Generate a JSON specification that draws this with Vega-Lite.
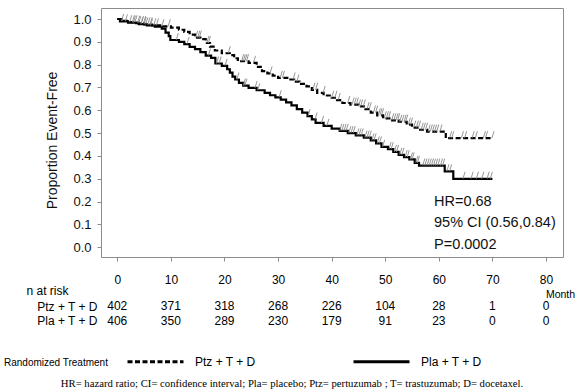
{
  "$schema": "https://vega.github.io/schema/vega-lite/v6.json",
  "width": 462,
  "height": 249,
  "autosize": {"type": "none"},
  "padding": {"left": 101, "top": 8, "right": 16, "bottom": 135},
  "background": "white",
  "config": {
    "view": {"stroke": "#8c8c8c", "strokeWidth": 1},
    "font": "Liberation Sans",
    "axis": {"grid": false, "domain": false, "tickColor": "#8c8c8c", "labelColor": "#111", "titleColor": "#111"}
  },
  "title": {
    "text": "HR= hazard ratio; CI= confidence interval; Pla= placebo; Ptz= pertuzumab ; T= trastuzumab; D= docetaxel.",
    "orient": "bottom", "anchor": "middle", "font": "Liberation Serif", "fontSize": 10.7,
    "fontWeight": "normal", "color": "#000", "offset": 11, "dx": -40
  },
  "datasets": {
    "km": [
      {"arm": "Ptz + T + D", "month": 0, "surv": 1.0}, {"arm": "Ptz + T + D", "month": 0.8, "surv": 0.992},
      {"arm": "Ptz + T + D", "month": 2, "surv": 0.986}, {"arm": "Ptz + T + D", "month": 3.5, "surv": 0.982},
      {"arm": "Ptz + T + D", "month": 5, "surv": 0.976}, {"arm": "Ptz + T + D", "month": 6.5, "surv": 0.972},
      {"arm": "Ptz + T + D", "month": 8, "surv": 0.968}, {"arm": "Ptz + T + D", "month": 10, "surv": 0.962},
      {"arm": "Ptz + T + D", "month": 11.5, "surv": 0.953}, {"arm": "Ptz + T + D", "month": 12.5, "surv": 0.944},
      {"arm": "Ptz + T + D", "month": 13.5, "surv": 0.932}, {"arm": "Ptz + T + D", "month": 14.5, "surv": 0.918},
      {"arm": "Ptz + T + D", "month": 15.5, "surv": 0.912}, {"arm": "Ptz + T + D", "month": 16.5, "surv": 0.895},
      {"arm": "Ptz + T + D", "month": 17.3, "surv": 0.879}, {"arm": "Ptz + T + D", "month": 18.2, "surv": 0.862},
      {"arm": "Ptz + T + D", "month": 19.5, "surv": 0.85}, {"arm": "Ptz + T + D", "month": 21, "surv": 0.842},
      {"arm": "Ptz + T + D", "month": 21.8, "surv": 0.828}, {"arm": "Ptz + T + D", "month": 22.5, "surv": 0.815},
      {"arm": "Ptz + T + D", "month": 24.5, "surv": 0.808}, {"arm": "Ptz + T + D", "month": 26, "surv": 0.79},
      {"arm": "Ptz + T + D", "month": 27, "surv": 0.772}, {"arm": "Ptz + T + D", "month": 28, "surv": 0.762},
      {"arm": "Ptz + T + D", "month": 29, "surv": 0.752}, {"arm": "Ptz + T + D", "month": 30, "surv": 0.742},
      {"arm": "Ptz + T + D", "month": 32, "surv": 0.735}, {"arm": "Ptz + T + D", "month": 33, "surv": 0.726},
      {"arm": "Ptz + T + D", "month": 34, "surv": 0.716}, {"arm": "Ptz + T + D", "month": 35.3, "surv": 0.705},
      {"arm": "Ptz + T + D", "month": 36.3, "surv": 0.69}, {"arm": "Ptz + T + D", "month": 37.3, "surv": 0.676},
      {"arm": "Ptz + T + D", "month": 38.5, "surv": 0.665}, {"arm": "Ptz + T + D", "month": 40, "surv": 0.655},
      {"arm": "Ptz + T + D", "month": 41, "surv": 0.645}, {"arm": "Ptz + T + D", "month": 42, "surv": 0.632},
      {"arm": "Ptz + T + D", "month": 43.5, "surv": 0.625}, {"arm": "Ptz + T + D", "month": 45, "surv": 0.617},
      {"arm": "Ptz + T + D", "month": 46.3, "surv": 0.605}, {"arm": "Ptz + T + D", "month": 47.3, "surv": 0.59},
      {"arm": "Ptz + T + D", "month": 48.5, "surv": 0.578}, {"arm": "Ptz + T + D", "month": 49.6, "surv": 0.565},
      {"arm": "Ptz + T + D", "month": 51, "surv": 0.556}, {"arm": "Ptz + T + D", "month": 52.5, "surv": 0.55},
      {"arm": "Ptz + T + D", "month": 54, "surv": 0.537}, {"arm": "Ptz + T + D", "month": 55, "surv": 0.524},
      {"arm": "Ptz + T + D", "month": 56.5, "surv": 0.515}, {"arm": "Ptz + T + D", "month": 57.8, "surv": 0.507},
      {"arm": "Ptz + T + D", "month": 61.3, "surv": 0.478}, {"arm": "Ptz + T + D", "month": 70, "surv": 0.478},
      {"arm": "Pla + T + D", "month": 0, "surv": 1.0}, {"arm": "Pla + T + D", "month": 0.5, "surv": 0.99},
      {"arm": "Pla + T + D", "month": 2, "surv": 0.984}, {"arm": "Pla + T + D", "month": 4, "surv": 0.978},
      {"arm": "Pla + T + D", "month": 5.5, "surv": 0.972}, {"arm": "Pla + T + D", "month": 7, "surv": 0.966},
      {"arm": "Pla + T + D", "month": 8.3, "surv": 0.958}, {"arm": "Pla + T + D", "month": 9, "surv": 0.94},
      {"arm": "Pla + T + D", "month": 9.6, "surv": 0.925}, {"arm": "Pla + T + D", "month": 9.9, "surv": 0.908},
      {"arm": "Pla + T + D", "month": 11.5, "surv": 0.9}, {"arm": "Pla + T + D", "month": 12.5, "surv": 0.89},
      {"arm": "Pla + T + D", "month": 13.5, "surv": 0.878}, {"arm": "Pla + T + D", "month": 14.5, "surv": 0.868},
      {"arm": "Pla + T + D", "month": 15.5, "surv": 0.855}, {"arm": "Pla + T + D", "month": 16.5, "surv": 0.84},
      {"arm": "Pla + T + D", "month": 17.5, "surv": 0.83}, {"arm": "Pla + T + D", "month": 18.3, "surv": 0.805},
      {"arm": "Pla + T + D", "month": 19.5, "surv": 0.795}, {"arm": "Pla + T + D", "month": 20.5, "surv": 0.78},
      {"arm": "Pla + T + D", "month": 21, "surv": 0.765}, {"arm": "Pla + T + D", "month": 21.5, "surv": 0.748},
      {"arm": "Pla + T + D", "month": 22, "surv": 0.735}, {"arm": "Pla + T + D", "month": 22.7, "surv": 0.72},
      {"arm": "Pla + T + D", "month": 23.5, "surv": 0.708}, {"arm": "Pla + T + D", "month": 24.5, "surv": 0.698},
      {"arm": "Pla + T + D", "month": 26, "surv": 0.688}, {"arm": "Pla + T + D", "month": 27.5, "surv": 0.676},
      {"arm": "Pla + T + D", "month": 28.5, "surv": 0.666}, {"arm": "Pla + T + D", "month": 29.5, "surv": 0.657},
      {"arm": "Pla + T + D", "month": 30.5, "surv": 0.647}, {"arm": "Pla + T + D", "month": 31.5, "surv": 0.635},
      {"arm": "Pla + T + D", "month": 32.5, "surv": 0.622}, {"arm": "Pla + T + D", "month": 33.5, "surv": 0.605},
      {"arm": "Pla + T + D", "month": 34.5, "surv": 0.59}, {"arm": "Pla + T + D", "month": 35.5, "surv": 0.575},
      {"arm": "Pla + T + D", "month": 36.3, "surv": 0.56}, {"arm": "Pla + T + D", "month": 37, "surv": 0.545},
      {"arm": "Pla + T + D", "month": 38.5, "surv": 0.532}, {"arm": "Pla + T + D", "month": 40, "surv": 0.52},
      {"arm": "Pla + T + D", "month": 41.5, "surv": 0.51}, {"arm": "Pla + T + D", "month": 43, "surv": 0.5},
      {"arm": "Pla + T + D", "month": 44.5, "surv": 0.49}, {"arm": "Pla + T + D", "month": 46, "surv": 0.48},
      {"arm": "Pla + T + D", "month": 47.3, "surv": 0.468}, {"arm": "Pla + T + D", "month": 48.3, "surv": 0.455},
      {"arm": "Pla + T + D", "month": 49.3, "surv": 0.44}, {"arm": "Pla + T + D", "month": 50.5, "surv": 0.43},
      {"arm": "Pla + T + D", "month": 51.5, "surv": 0.418}, {"arm": "Pla + T + D", "month": 52.5, "surv": 0.405},
      {"arm": "Pla + T + D", "month": 53.5, "surv": 0.395}, {"arm": "Pla + T + D", "month": 54.5, "surv": 0.385},
      {"arm": "Pla + T + D", "month": 55.5, "surv": 0.37}, {"arm": "Pla + T + D", "month": 56.3, "surv": 0.358},
      {"arm": "Pla + T + D", "month": 61.1, "surv": 0.333}, {"arm": "Pla + T + D", "month": 62.7, "surv": 0.3},
      {"arm": "Pla + T + D", "month": 70, "surv": 0.3}
    ],
    "censor": [
      {"arm": "Ptz + T + D", "month": 0.8, "surv": 0.992}, {"arm": "Ptz + T + D", "month": 2.3, "surv": 0.986},
      {"arm": "Ptz + T + D", "month": 2.8, "surv": 0.986}, {"arm": "Ptz + T + D", "month": 3.3, "surv": 0.986},
      {"arm": "Ptz + T + D", "month": 4.0, "surv": 0.982}, {"arm": "Ptz + T + D", "month": 4.5, "surv": 0.982},
      {"arm": "Ptz + T + D", "month": 4.9, "surv": 0.982}, {"arm": "Ptz + T + D", "month": 5.3, "surv": 0.976},
      {"arm": "Ptz + T + D", "month": 5.7, "surv": 0.976}, {"arm": "Ptz + T + D", "month": 6.1, "surv": 0.976},
      {"arm": "Ptz + T + D", "month": 6.8, "surv": 0.972}, {"arm": "Ptz + T + D", "month": 7.3, "surv": 0.972},
      {"arm": "Ptz + T + D", "month": 8.3, "surv": 0.968}, {"arm": "Ptz + T + D", "month": 9.5, "surv": 0.968},
      {"arm": "Ptz + T + D", "month": 14.6, "surv": 0.918}, {"arm": "Ptz + T + D", "month": 15.0, "surv": 0.918},
      {"arm": "Ptz + T + D", "month": 15.3, "surv": 0.918}, {"arm": "Ptz + T + D", "month": 16.7, "surv": 0.895},
      {"arm": "Ptz + T + D", "month": 17.0, "surv": 0.895}, {"arm": "Ptz + T + D", "month": 20.7, "surv": 0.85},
      {"arm": "Ptz + T + D", "month": 23.2, "surv": 0.815}, {"arm": "Ptz + T + D", "month": 23.5, "surv": 0.815},
      {"arm": "Ptz + T + D", "month": 23.8, "surv": 0.815}, {"arm": "Ptz + T + D", "month": 24.1, "surv": 0.815},
      {"arm": "Ptz + T + D", "month": 25.4, "surv": 0.808}, {"arm": "Ptz + T + D", "month": 28.5, "surv": 0.762},
      {"arm": "Ptz + T + D", "month": 30.4, "surv": 0.742}, {"arm": "Ptz + T + D", "month": 30.8, "surv": 0.742},
      {"arm": "Ptz + T + D", "month": 32.8, "surv": 0.735}, {"arm": "Ptz + T + D", "month": 33.5, "surv": 0.726},
      {"arm": "Ptz + T + D", "month": 36.5, "surv": 0.69}, {"arm": "Ptz + T + D", "month": 37.0, "surv": 0.69},
      {"arm": "Ptz + T + D", "month": 38.4, "surv": 0.676}, {"arm": "Ptz + T + D", "month": 40.0, "surv": 0.655},
      {"arm": "Ptz + T + D", "month": 40.6, "surv": 0.655}, {"arm": "Ptz + T + D", "month": 41.2, "surv": 0.645},
      {"arm": "Ptz + T + D", "month": 43.0, "surv": 0.632}, {"arm": "Ptz + T + D", "month": 43.8, "surv": 0.625},
      {"arm": "Ptz + T + D", "month": 44.2, "surv": 0.625}, {"arm": "Ptz + T + D", "month": 44.6, "surv": 0.625},
      {"arm": "Ptz + T + D", "month": 45.0, "surv": 0.617}, {"arm": "Ptz + T + D", "month": 45.4, "surv": 0.617},
      {"arm": "Ptz + T + D", "month": 45.9, "surv": 0.617}, {"arm": "Ptz + T + D", "month": 46.6, "surv": 0.605},
      {"arm": "Ptz + T + D", "month": 47.0, "surv": 0.605}, {"arm": "Ptz + T + D", "month": 47.8, "surv": 0.59},
      {"arm": "Ptz + T + D", "month": 48.2, "surv": 0.59}, {"arm": "Ptz + T + D", "month": 48.7, "surv": 0.578},
      {"arm": "Ptz + T + D", "month": 49.0, "surv": 0.578}, {"arm": "Ptz + T + D", "month": 49.3, "surv": 0.578},
      {"arm": "Ptz + T + D", "month": 49.8, "surv": 0.565}, {"arm": "Ptz + T + D", "month": 50.2, "surv": 0.565},
      {"arm": "Ptz + T + D", "month": 50.6, "surv": 0.565}, {"arm": "Ptz + T + D", "month": 51.2, "surv": 0.556},
      {"arm": "Ptz + T + D", "month": 51.6, "surv": 0.556}, {"arm": "Ptz + T + D", "month": 52.0, "surv": 0.556},
      {"arm": "Ptz + T + D", "month": 52.3, "surv": 0.556}, {"arm": "Ptz + T + D", "month": 52.7, "surv": 0.55},
      {"arm": "Ptz + T + D", "month": 53.1, "surv": 0.55}, {"arm": "Ptz + T + D", "month": 53.5, "surv": 0.55},
      {"arm": "Ptz + T + D", "month": 53.8, "surv": 0.55}, {"arm": "Ptz + T + D", "month": 54.3, "surv": 0.537},
      {"arm": "Ptz + T + D", "month": 54.7, "surv": 0.537}, {"arm": "Ptz + T + D", "month": 55.3, "surv": 0.524},
      {"arm": "Ptz + T + D", "month": 55.8, "surv": 0.524}, {"arm": "Ptz + T + D", "month": 56.2, "surv": 0.524},
      {"arm": "Ptz + T + D", "month": 56.7, "surv": 0.515}, {"arm": "Ptz + T + D", "month": 57.1, "surv": 0.515},
      {"arm": "Ptz + T + D", "month": 57.5, "surv": 0.515}, {"arm": "Ptz + T + D", "month": 58.0, "surv": 0.507},
      {"arm": "Ptz + T + D", "month": 58.4, "surv": 0.507}, {"arm": "Ptz + T + D", "month": 58.8, "surv": 0.507},
      {"arm": "Ptz + T + D", "month": 59.2, "surv": 0.507}, {"arm": "Ptz + T + D", "month": 59.6, "surv": 0.507},
      {"arm": "Ptz + T + D", "month": 60.2, "surv": 0.507}, {"arm": "Ptz + T + D", "month": 62.0, "surv": 0.478},
      {"arm": "Ptz + T + D", "month": 62.4, "surv": 0.478}, {"arm": "Ptz + T + D", "month": 64.2, "surv": 0.478},
      {"arm": "Ptz + T + D", "month": 64.8, "surv": 0.478}, {"arm": "Ptz + T + D", "month": 66.2, "surv": 0.478},
      {"arm": "Ptz + T + D", "month": 66.8, "surv": 0.478}, {"arm": "Ptz + T + D", "month": 68.3, "surv": 0.478},
      {"arm": "Ptz + T + D", "month": 68.7, "surv": 0.478}, {"arm": "Ptz + T + D", "month": 69.9, "surv": 0.478},
      {"arm": "Pla + T + D", "month": 1.5, "surv": 0.99}, {"arm": "Pla + T + D", "month": 3.0, "surv": 0.984},
      {"arm": "Pla + T + D", "month": 3.8, "surv": 0.984}, {"arm": "Pla + T + D", "month": 4.4, "surv": 0.978},
      {"arm": "Pla + T + D", "month": 5.0, "surv": 0.978}, {"arm": "Pla + T + D", "month": 6.2, "surv": 0.972},
      {"arm": "Pla + T + D", "month": 11.0, "surv": 0.908}, {"arm": "Pla + T + D", "month": 13.0, "surv": 0.89},
      {"arm": "Pla + T + D", "month": 17.0, "surv": 0.84}, {"arm": "Pla + T + D", "month": 18.5, "surv": 0.805},
      {"arm": "Pla + T + D", "month": 19.0, "surv": 0.805}, {"arm": "Pla + T + D", "month": 20.1, "surv": 0.795},
      {"arm": "Pla + T + D", "month": 22.3, "surv": 0.735}, {"arm": "Pla + T + D", "month": 23.5, "surv": 0.708},
      {"arm": "Pla + T + D", "month": 23.8, "surv": 0.708}, {"arm": "Pla + T + D", "month": 25.7, "surv": 0.698},
      {"arm": "Pla + T + D", "month": 26.2, "surv": 0.688}, {"arm": "Pla + T + D", "month": 30.2, "surv": 0.657},
      {"arm": "Pla + T + D", "month": 35.6, "surv": 0.575}, {"arm": "Pla + T + D", "month": 36.9, "surv": 0.56},
      {"arm": "Pla + T + D", "month": 38.1, "surv": 0.545}, {"arm": "Pla + T + D", "month": 39.1, "surv": 0.532},
      {"arm": "Pla + T + D", "month": 41.5, "surv": 0.51}, {"arm": "Pla + T + D", "month": 41.9, "surv": 0.51},
      {"arm": "Pla + T + D", "month": 42.3, "surv": 0.51}, {"arm": "Pla + T + D", "month": 42.7, "surv": 0.51},
      {"arm": "Pla + T + D", "month": 43.2, "surv": 0.5}, {"arm": "Pla + T + D", "month": 43.6, "surv": 0.5},
      {"arm": "Pla + T + D", "month": 44.0, "surv": 0.5}, {"arm": "Pla + T + D", "month": 44.7, "surv": 0.49},
      {"arm": "Pla + T + D", "month": 45.1, "surv": 0.49}, {"arm": "Pla + T + D", "month": 45.5, "surv": 0.49},
      {"arm": "Pla + T + D", "month": 46.2, "surv": 0.48}, {"arm": "Pla + T + D", "month": 46.6, "surv": 0.48},
      {"arm": "Pla + T + D", "month": 47.0, "surv": 0.48}, {"arm": "Pla + T + D", "month": 47.5, "surv": 0.468},
      {"arm": "Pla + T + D", "month": 47.9, "surv": 0.468}, {"arm": "Pla + T + D", "month": 48.5, "surv": 0.455},
      {"arm": "Pla + T + D", "month": 48.9, "surv": 0.455}, {"arm": "Pla + T + D", "month": 49.5, "surv": 0.44},
      {"arm": "Pla + T + D", "month": 50.7, "surv": 0.43}, {"arm": "Pla + T + D", "month": 51.1, "surv": 0.43},
      {"arm": "Pla + T + D", "month": 51.7, "surv": 0.418}, {"arm": "Pla + T + D", "month": 52.1, "surv": 0.418},
      {"arm": "Pla + T + D", "month": 52.7, "surv": 0.405}, {"arm": "Pla + T + D", "month": 53.1, "surv": 0.405},
      {"arm": "Pla + T + D", "month": 53.7, "surv": 0.395}, {"arm": "Pla + T + D", "month": 54.1, "surv": 0.395},
      {"arm": "Pla + T + D", "month": 54.7, "surv": 0.385}, {"arm": "Pla + T + D", "month": 55.0, "surv": 0.385},
      {"arm": "Pla + T + D", "month": 55.7, "surv": 0.37}, {"arm": "Pla + T + D", "month": 56.0, "surv": 0.37},
      {"arm": "Pla + T + D", "month": 57.0, "surv": 0.358}, {"arm": "Pla + T + D", "month": 57.4, "surv": 0.358},
      {"arm": "Pla + T + D", "month": 57.8, "surv": 0.358}, {"arm": "Pla + T + D", "month": 58.2, "surv": 0.358},
      {"arm": "Pla + T + D", "month": 58.6, "surv": 0.358}, {"arm": "Pla + T + D", "month": 59.0, "surv": 0.358},
      {"arm": "Pla + T + D", "month": 59.4, "surv": 0.358}, {"arm": "Pla + T + D", "month": 59.8, "surv": 0.358},
      {"arm": "Pla + T + D", "month": 60.3, "surv": 0.358}, {"arm": "Pla + T + D", "month": 60.7, "surv": 0.358},
      {"arm": "Pla + T + D", "month": 61.5, "surv": 0.333}, {"arm": "Pla + T + D", "month": 62.0, "surv": 0.333},
      {"arm": "Pla + T + D", "month": 64.5, "surv": 0.3}, {"arm": "Pla + T + D", "month": 66.0, "surv": 0.3},
      {"arm": "Pla + T + D", "month": 67.0, "surv": 0.3}, {"arm": "Pla + T + D", "month": 68.0, "surv": 0.3},
      {"arm": "Pla + T + D", "month": 69.0, "surv": 0.3}, {"arm": "Pla + T + D", "month": 69.6, "surv": 0.3}
    ],
    "risk": [
      {"arm": "Ptz + T + D", "month": 0, "n": 402}, {"arm": "Ptz + T + D", "month": 10, "n": 371},
      {"arm": "Ptz + T + D", "month": 20, "n": 318}, {"arm": "Ptz + T + D", "month": 30, "n": 268},
      {"arm": "Ptz + T + D", "month": 40, "n": 226}, {"arm": "Ptz + T + D", "month": 50, "n": 104},
      {"arm": "Ptz + T + D", "month": 60, "n": 28}, {"arm": "Ptz + T + D", "month": 70, "n": 1},
      {"arm": "Ptz + T + D", "month": 80, "n": 0},
      {"arm": "Pla + T + D", "month": 0, "n": 406}, {"arm": "Pla + T + D", "month": 10, "n": 350},
      {"arm": "Pla + T + D", "month": 20, "n": 289}, {"arm": "Pla + T + D", "month": 30, "n": 230},
      {"arm": "Pla + T + D", "month": 40, "n": 179}, {"arm": "Pla + T + D", "month": 50, "n": 91},
      {"arm": "Pla + T + D", "month": 60, "n": 23}, {"arm": "Pla + T + D", "month": 70, "n": 0},
      {"arm": "Pla + T + D", "month": 80, "n": 0}
    ]
  },
  "layer": [
    {
      "layer": [
        {
          "data": {"name": "km"},
          "mark": {"type": "line", "interpolate": "step-after", "color": "#000", "strokeWidth": 2.2},
          "encoding": {
            "x": {
              "field": "month", "type": "quantitative",
              "scale": {"domain": [-3.04, 83.17], "nice": false, "zero": false},
              "axis": {
                "values": [0, 10, 20, 30, 40, 50, 60, 70, 80], "title": "Month",
                "tickSize": 4, "labelPadding": 13, "labelOverlap": false,
                "labelFont": "Liberation Sans", "labelFontSize": 12, "labelColor": "#000",
                "titleX": 459, "titleY": 37, "titleAlign": "center", "titleBaseline": "middle",
                "titleFont": "Liberation Sans", "titleFontSize": 10.5, "titleFontWeight": "normal", "titleColor": "#000"
              }
            },
            "y": {
              "field": "surv", "type": "quantitative",
              "scale": {"domain": [-0.0425, 1.0482], "nice": false, "zero": false},
              "axis": {
                "values": [0, 0.1, 0.2, 0.3, 0.4, 0.5, 0.6, 0.7, 0.8, 0.9, 1.0], "format": ".1f",
                "labelOverlap": false,
                "title": "Proportion Event-Free", "tickSize": 4, "labelPadding": 6,
                "labelFont": "Liberation Sans", "labelFontSize": 13, "labelColor": "#111",
                "titleFont": "Liberation Sans", "titleFontSize": 14, "titleFontWeight": "normal",
                "titleX": -48.5, "titleY": 132, "titleAngle": -90, "titleAlign": "center", "titleBaseline": "middle"
              }
            },
            "strokeDash": {
              "field": "arm", "type": "nominal",
              "scale": {"domain": ["Ptz + T + D", "Pla + T + D"], "range": [[5, 2.5], [1, 0]]},
              "legend": {
                "orient": "none", "legendX": -97, "legendY": 324, "direction": "horizontal",
                "title": "Randomized Treatment", "titleOrient": "left", "titleAnchor": "end", "titleBaseline": "bottom",
                "titleFont": "Liberation Sans", "titleFontSize": 10, "titleFontWeight": "normal",
                "titleColor": "#000", "titlePadding": 17,
                "labelFont": "Liberation Sans", "labelFontSize": 12, "labelColor": "#000", "labelOffset": 10,
                "symbolType": "stroke", "symbolSize": 3136, "symbolStrokeWidth": 3, "symbolStrokeColor": "#000",
                "columnPadding": 91
              }
            }
          }
        },
        {
          "data": {"name": "censor"},
          "mark": {"type": "point", "shape": "M0,0L0.3,-1", "size": 196, "filled": false, "color": "#8a8a8a", "strokeWidth": 0.9, "opacity": 1},
          "encoding": {
            "x": {
              "field": "month", "type": "quantitative",
              "scale": {"domain": [-3.04, 83.17], "nice": false, "zero": false},
              "axis": {
                "values": [0, 10, 20, 30, 40, 50, 60, 70, 80], "title": "Month",
                "tickSize": 4, "labelPadding": 13, "labelOverlap": false,
                "labelFont": "Liberation Sans", "labelFontSize": 12, "labelColor": "#000",
                "titleX": 459, "titleY": 37, "titleAlign": "center", "titleBaseline": "middle",
                "titleFont": "Liberation Sans", "titleFontSize": 10.5, "titleFontWeight": "normal", "titleColor": "#000"
              }
            },
            "y": {
              "field": "surv", "type": "quantitative",
              "scale": {"domain": [-0.0425, 1.0482], "nice": false, "zero": false},
              "axis": {
                "values": [0, 0.1, 0.2, 0.3, 0.4, 0.5, 0.6, 0.7, 0.8, 0.9, 1.0], "format": ".1f",
                "labelOverlap": false,
                "title": "Proportion Event-Free", "tickSize": 4, "labelPadding": 6,
                "labelFont": "Liberation Sans", "labelFontSize": 13, "labelColor": "#111",
                "titleFont": "Liberation Sans", "titleFontSize": 14, "titleFontWeight": "normal",
                "titleX": -48.5, "titleY": 132, "titleAngle": -90, "titleAlign": "center", "titleBaseline": "middle"
              }
            }
          }
        },
        {
          "data": {"values": [{"label": "HR"}]},
          "mark": {
            "type": "text", "text": ["HR=0.68", "95% CI (0.56,0.84)", "P=0.0002"],
            "align": "left", "baseline": "middle", "lineHeight": 21.7,
            "font": "Liberation Sans", "fontSize": 14.5, "color": "#111"
          },
          "encoding": {
            "x": {
              "datum": 59.1, "type": "quantitative",
              "scale": {"domain": [-3.04, 83.17], "nice": false, "zero": false},
              "axis": {
                "values": [0, 10, 20, 30, 40, 50, 60, 70, 80], "title": "Month",
                "tickSize": 4, "labelPadding": 13, "labelOverlap": false,
                "labelFont": "Liberation Sans", "labelFontSize": 12, "labelColor": "#000",
                "titleX": 459, "titleY": 37, "titleAlign": "center", "titleBaseline": "middle",
                "titleFont": "Liberation Sans", "titleFontSize": 10.5, "titleFontWeight": "normal", "titleColor": "#000"
              }
            },
            "y": {
              "datum": 0.2, "type": "quantitative",
              "scale": {"domain": [-0.0425, 1.0482], "nice": false, "zero": false},
              "axis": {
                "values": [0, 0.1, 0.2, 0.3, 0.4, 0.5, 0.6, 0.7, 0.8, 0.9, 1.0], "format": ".1f",
                "labelOverlap": false,
                "title": "Proportion Event-Free", "tickSize": 4, "labelPadding": 6,
                "labelFont": "Liberation Sans", "labelFontSize": 13, "labelColor": "#111",
                "titleFont": "Liberation Sans", "titleFontSize": 14, "titleFontWeight": "normal",
                "titleX": -48.5, "titleY": 132, "titleAngle": -90, "titleAlign": "center", "titleBaseline": "middle"
              }
            }
          }
        }
      ]
    },
    {
      "data": {"name": "risk"},
      "mark": {
        "type": "text", "baseline": "middle", "align": "center",
        "font": "Liberation Sans", "fontSize": 12, "color": "#000"
      },
      "encoding": {
        "x": {
          "field": "month", "type": "quantitative",
          "scale": {"domain": [-3.04, 83.17], "nice": false, "zero": false},
          "axis": {
            "values": [0, 10, 20, 30, 40, 50, 60, 70, 80], "title": "Month",
            "tickSize": 4, "labelPadding": 13, "labelOverlap": false,
            "labelFont": "Liberation Sans", "labelFontSize": 12, "labelColor": "#000",
            "titleX": 459, "titleY": 37, "titleAlign": "center", "titleBaseline": "middle",
            "titleFont": "Liberation Sans", "titleFontSize": 10.5, "titleFontWeight": "normal", "titleColor": "#000"
          }
        },
        "y": {
          "field": "arm", "type": "nominal",
          "scale": {"type": "point", "domain": ["Ptz + T + D", "Pla + T + D"], "range": [298, 312.5], "padding": 0},
          "axis": {
            "orient": "left", "title": "n at risk", "domain": false, "ticks": false, "tickSize": 0,
            "labelAlign": "right", "labelBaseline": "middle", "labelPadding": 4,
            "labelFont": "Liberation Sans", "labelFontSize": 12, "labelColor": "#000",
            "titleAngle": 0, "titleAlign": "left", "titleBaseline": "middle", "titleX": -75, "titleY": 282.5,
            "titleFont": "Liberation Sans", "titleFontSize": 12, "titleFontWeight": "normal", "titleColor": "#000"
          }
        },
        "text": {"field": "n", "type": "quantitative"}
      }
    }
  ],
  "resolve": {"scale": {"y": "independent"}, "axis": {"y": "independent"}}
}
